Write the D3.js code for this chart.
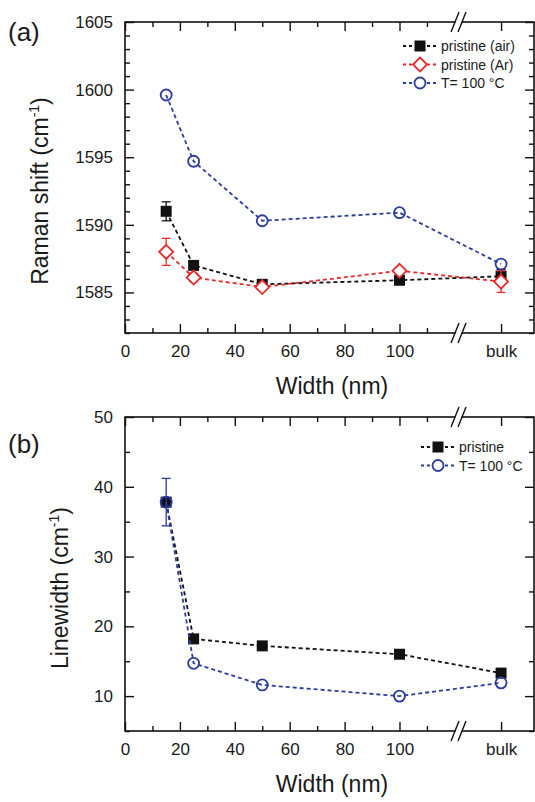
<!DOCTYPE html>
<meta charset="utf-8" />
<script src="https://d3js.org/d3.v7.min.js"></script>
<style>
  body { margin: 0; background: #fff; }
  svg text { font-family: "Liberation Sans", Arial, sans-serif; fill: #1a1a1a; }
  .frame { fill: none; stroke: #111; stroke-width: 1.6; }
  .tick line { stroke: #111; stroke-width: 1.4; }
  .domain { display: none; }
</style>
<svg width="535" height="802"></svg>
<script>
  // widths in nm; "bulk" sits after the axis break
  var widths = [15, 25, 50, 100, "bulk"];

  // (a) Raman shift, cm-1
  var shiftAir = [1591.0, 1587.0, 1585.6, 1585.9, 1586.2];
  var shiftAirErr = [0.7, 0.2, 0.2, 0.15, 0.5];
  var shiftAr = [1588.0, 1586.1, 1585.4, 1586.6, 1585.8];
  var shiftArErr = [1.0, 0.3, 0.15, 0.15, 0.8];
  var shiftT100 = [1599.6, 1594.7, 1590.3, 1590.9, 1587.1];

  // (b) linewidth, cm-1
  var lwPristine = [37.8, 18.2, 17.2, 16.0, 13.3];
  var lwT100 = [37.8, 14.7, 11.6, 10.0, 11.9];
  var lwT100Err = [3.4, 0, 0, 0, 0];

  var xMajor = [0, 20, 40, 60, 80, 100, "bulk"];
  var xMinor = [10, 30, 50, 70, 90, 110];
  var yMajorA = [1585, 1590, 1595, 1600, 1605];
  var yMajorB = [10, 20, 30, 40, 50];

  var bulkAt = 137, breakAt = 121.5;
  var pos = function (w) { return w === "bulk" ? bulkAt : w; };

  var black = "#111", red = "#e52b2b", blue = "#2b3b9e";

  var svg = d3.select("svg");
  var left = 125, right = 534;
  var x = d3.scaleLinear().domain([0, 149]).range([left, right]);

  function panel(cfg) {
    var y = d3.scaleLinear().domain(cfg.yDomain).range([cfg.bottom, cfg.top]);
    var g = svg.append("g");
    var yMinor = d3.range(cfg.yDomain[0], cfg.yDomain[1] + 0.001, cfg.minorStep)
      .filter(function (v) { return cfg.yMajor.indexOf(v) < 0; });
    var xMaj = xMajor.map(pos);
    var fmt = function (d) { return d === bulkAt ? "bulk" : d; };

    // ticks, all pointing inward
    g.append("g").attr("transform", "translate(0," + cfg.bottom + ")")
      .call(d3.axisBottom(x).tickValues(xMaj).tickSize(-9).tickPadding(12).tickFormat(fmt));
    g.append("g").attr("transform", "translate(0," + cfg.bottom + ")")
      .call(d3.axisBottom(x).tickValues(xMinor).tickSize(-5).tickFormat(""));
    g.append("g").attr("transform", "translate(0," + cfg.top + ")")
      .call(d3.axisTop(x).tickValues(xMaj).tickSize(-9).tickFormat(""));
    g.append("g").attr("transform", "translate(0," + cfg.top + ")")
      .call(d3.axisTop(x).tickValues(xMinor).tickSize(-5).tickFormat(""));
    g.append("g").attr("transform", "translate(" + left + ",0)")
      .call(d3.axisLeft(y).tickValues(cfg.yMajor).tickSize(-9).tickPadding(12).tickFormat(d3.format("d")));
    g.append("g").attr("transform", "translate(" + left + ",0)")
      .call(d3.axisLeft(y).tickValues(yMinor).tickSize(-5).tickFormat(""));
    g.append("g").attr("transform", "translate(" + right + ",0)")
      .call(d3.axisRight(y).tickValues(cfg.yMajor).tickSize(-9).tickFormat(""));
    g.append("g").attr("transform", "translate(" + right + ",0)")
      .call(d3.axisRight(y).tickValues(yMinor).tickSize(-5).tickFormat(""));
    g.selectAll(".tick text").style("font-size", "17px").attr("fill", "#1a1a1a");

    g.append("rect").attr("class", "frame")
      .attr("x", left).attr("y", cfg.top)
      .attr("width", right - left).attr("height", cfg.bottom - cfg.top);

    // axis break marks on top and bottom edges
    [cfg.top, cfg.bottom].forEach(function (yy) {
      var bx = x(breakAt);
      g.append("rect").attr("x", bx - 3).attr("y", yy - 3).attr("width", 6).attr("height", 6).attr("fill", "#fff");
      [-3.5, 3.5].forEach(function (o) {
        g.append("line")
          .attr("x1", bx + o - 4).attr("y1", yy + 10)
          .attr("x2", bx + o + 4).attr("y2", yy - 10)
          .attr("stroke", "#111").attr("stroke-width", 1.4);
      });
    });

    // series
    cfg.series.forEach(function (s) {
      var pts = widths.map(function (w, i) { return { x: x(pos(w)), y: y(s.values[i]), e: s.err ? s.err[i] : 0, v: s.values[i] }; });
      var line = d3.line().x(function (d) { return d.x; }).y(function (d) { return d.y; });
      g.append("path").datum(pts).attr("d", line)
        .attr("fill", "none").attr("stroke", s.color)
        .attr("stroke-width", 1.8).attr("stroke-dasharray", "4,3");
      pts.forEach(function (d) {
        if (!d.e) return;
        var y0 = y(d.v - d.e), y1 = y(d.v + d.e);
        g.append("line").attr("x1", d.x).attr("x2", d.x).attr("y1", y0).attr("y2", y1)
          .attr("stroke", s.color).attr("stroke-width", 1.3);
        [y0, y1].forEach(function (yy) {
          g.append("line").attr("x1", d.x - 4.5).attr("x2", d.x + 4.5).attr("y1", yy).attr("y2", yy)
            .attr("stroke", s.color).attr("stroke-width", 1.3);
        });
      });
      pts.forEach(function (d) { drawMarker(g, s.marker, s.color, d.x, d.y); });
    });

    // legend
    cfg.series.forEach(function (s, i) {
      var ly = cfg.legendY + i * 18.5, lx = cfg.legendX;
      [[lx, lx + 10], [lx + 24, lx + 34]].forEach(function (seg) {
        g.append("line").attr("x1", seg[0]).attr("x2", seg[1]).attr("y1", ly).attr("y2", ly)
          .attr("stroke", s.color).attr("stroke-width", 1.8).attr("stroke-dasharray", "3,3");
      });
      drawMarker(g, s.marker, s.color, lx + 17, ly);
      g.append("text").attr("x", lx + 38).attr("y", ly + 5)
        .style("font-size", "14px").text(s.name);
    });

    // panel label
    svg.append("text").attr("x", 8).attr("y", cfg.labelY)
      .style("font-size", "26px").text(cfg.label);

    // axis titles
    var yt = svg.append("text")
      .attr("transform", "translate(" + cfg.titleX + "," + cfg.titleY + ") rotate(-90)")
      .attr("text-anchor", "middle").style("font-size", "23px");
    yt.append("tspan").text(cfg.yTitle + " (cm");
    yt.append("tspan").attr("dy", -9).style("font-size", "14px").text("-1");
    yt.append("tspan").attr("dy", 9).text(")");

    svg.append("text").attr("x", 332).attr("y", cfg.bottom + 61)
      .attr("text-anchor", "middle").style("font-size", "23px").text("Width (nm)");
  }

  function drawMarker(g, type, color, cx, cy) {
    if (type === "square") {
      g.append("rect").attr("x", cx - 5.5).attr("y", cy - 5.5).attr("width", 11).attr("height", 11)
        .attr("fill", color);
    } else if (type === "diamond") {
      g.append("path").attr("d", "M" + cx + "," + (cy - 7) + "L" + (cx + 7) + "," + cy +
        "L" + cx + "," + (cy + 7) + "L" + (cx - 7) + "," + cy + "Z")
        .attr("fill", "#fff").attr("stroke", color).attr("stroke-width", 1.8);
    } else {
      g.append("circle").attr("cx", cx).attr("cy", cy).attr("r", 5.5)
        .attr("fill", "none").attr("stroke", color).attr("stroke-width", 1.8);
    }
  }

  panel({
    top: 22, bottom: 333, yDomain: [1582, 1605], yMajor: yMajorA, minorStep: 1,
    label: "(a)", labelY: 41, yTitle: "Raman shift", titleX: 48, titleY: 191,
    legendX: 403, legendY: 46,
    series: [
      { name: "pristine (air)", values: shiftAir, err: shiftAirErr, color: black, marker: "square" },
      { name: "pristine (Ar)", values: shiftAr, err: shiftArErr, color: red, marker: "diamond" },
      { name: "T= 100 °C", values: shiftT100, color: blue, marker: "circle" }
    ]
  });

  panel({
    top: 417, bottom: 731, yDomain: [5, 50], yMajor: yMajorB, minorStep: 5,
    label: "(b)", labelY: 453, yTitle: "Linewidth", titleX: 68, titleY: 588,
    legendX: 421, legendY: 447,
    series: [
      { name: "pristine", values: lwPristine, color: black, marker: "square" },
      { name: "T= 100 °C", values: lwT100, err: lwT100Err, color: blue, marker: "circle" }
    ]
  });
</script>
